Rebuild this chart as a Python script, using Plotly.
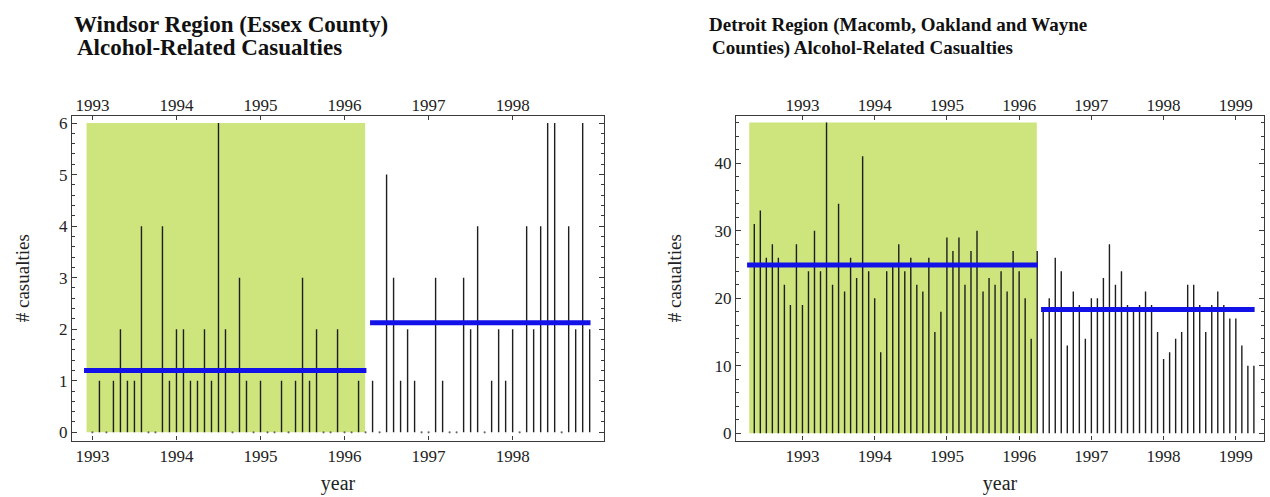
import plotly.graph_objects as go

# Monthly alcohol-related casualty counts
windsor_start = (1993, 1)   # Jan 1993 .. Dec 1998
windsor_counts = [
    0, 1, 0, 1, 2, 1, 1, 4, 0, 0, 4, 1,   # 1993
    2, 2, 1, 1, 2, 1, 6, 2, 0, 3, 1, 0,   # 1994
    1, 0, 0, 1, 0, 1, 3, 1, 2, 0, 0, 2,   # 1995
    0, 0, 1, 0, 1, 0, 5, 3, 1, 2, 1, 0,   # 1996
    0, 3, 1, 0, 0, 3, 2, 4, 0, 1, 2, 1,   # 1997
    2, 0, 4, 2, 4, 6, 6, 0, 4, 2, 6, 2,   # 1998
]

detroit_start = (1992, 5)   # May 1992 .. Apr 1999
detroit_counts = [
    31, 33, 26, 28, 26, 22, 19, 28,                   # 1992 (May-Dec)
    19, 24, 30, 24, 46, 22, 34, 21, 26, 23, 41, 24,   # 1993
    20, 12, 24, 25, 28, 24, 26, 22, 21, 26, 15, 18,   # 1994
    29, 27, 29, 22, 27, 30, 21, 23, 22, 24, 21, 27,   # 1995
    24, 20, 14, 27, 18, 20, 26, 24, 13, 21, 19, 14,   # 1996
    20, 20, 23, 28, 22, 24, 19, 18, 19, 21, 19, 15,   # 1997
    11, 12, 14, 15, 22, 22, 19, 15, 19, 21, 19, 17,   # 1998
    17, 13, 10, 10,                                   # 1999 (Jan-Apr)
]

# last month of the "before" period: April 1996
cutoff = 1996 + 3 / 12

windsor_years = [1993, 1994, 1995, 1996, 1997, 1998]
detroit_years = [1993, 1994, 1995, 1996, 1997, 1998, 1999]

titles = [
    ["Windsor Region (Essex County)", "Alcohol-Related Casualties"],
    ["Detroit Region (Macomb, Oakland and Wayne", "Counties) Alcohol-Related Casualties"],
]

GREEN = "rgb(206,228,124)"
BLUE = "rgb(18,18,232)"
BAR = "#1e1e1e"
AXIS = "#3a3a3a"
FONT = "Liberation Serif, 'Times New Roman', Times, serif"


def month_axis(start, n):
    y, m = start
    return [y + (m - 1 + i) / 12 for i in range(n)]


fig = go.Figure()

panels = [
    dict(t=month_axis(windsor_start, len(windsor_counts)), v=windsor_counts,
         xs="x", ys="y", xt="x3", years=windsor_years,
         xr=[1992.757, 1999.087], yr=[-0.16, 6.14], dtick=1, minor=0.2,
         dom=[72 / 1270, 604 / 1270], ystand=24),
    dict(t=month_axis(detroit_start, len(detroit_counts)), v=detroit_counts,
         xs="x2", ys="y2", xt="x4", years=detroit_years,
         xr=[1992.08, 1999.39], yr=[-1.08, 47.0], dtick=10, minor=2,
         dom=[736 / 1270, 1264 / 1270], ystand=27),
]

shapes = []
for p in panels:
    t, v = p["t"], p["v"]
    pre = [(ti, vi) for ti, vi in zip(t, v) if ti <= cutoff + 1e-9]
    post = [(ti, vi) for ti, vi in zip(t, v) if ti > cutoff + 1e-9]

    # shaded "before" period
    shapes.append(dict(type="rect", xref=p["xs"], yref=p["ys"], layer="below",
                       x0=pre[0][0] - 0.07, x1=cutoff - 0.005, y0=0, y1=max(v),
                       fillcolor=GREEN, line=dict(width=0)))

    # monthly spikes
    bx, by = [], []
    for ti, vi in zip(t, v):
        if vi > 0:
            bx += [ti, ti, None]
            by += [0, vi, None]
    fig.add_trace(go.Scatter(x=bx, y=by, mode="lines", xaxis=p["xs"], yaxis=p["ys"],
                             line=dict(color=BAR, width=1.4), hoverinfo="skip",
                             showlegend=False))
    zx = [ti for ti, vi in zip(t, v) if vi == 0]
    if zx:
        fig.add_trace(go.Scatter(x=zx, y=[0] * len(zx), mode="markers",
                                 xaxis=p["xs"], yaxis=p["ys"],
                                 marker=dict(color="#666666", size=2.2),
                                 hoverinfo="skip", showlegend=False))

    # period means
    for seg, x0, x1 in [(pre, pre[0][0] - 0.1, pre[-1][0] + 0.01),
                        (post, post[0][0] - 0.03, post[-1][0] + 0.01)]:
        mean = sum(s[1] for s in seg) / len(seg)
        fig.add_trace(go.Scatter(x=[x0, x1], y=[mean, mean], mode="lines",
                                 xaxis=p["xs"], yaxis=p["ys"],
                                 line=dict(color=BLUE, width=5), hoverinfo="skip",
                                 showlegend=False))

    # carrier for the top year labels
    fig.add_trace(go.Scatter(x=[p["xr"][0]], y=[0], mode="markers", xaxis=p["xt"],
                             yaxis=p["ys"], marker=dict(opacity=0), hoverinfo="skip",
                             showlegend=False))

tickfont = dict(family=FONT, size=17, color="#222222")
ydom = [1 - 443 / 497, 1 - 115 / 497]

layout = dict(
    width=1270, height=497, margin=dict(l=0, r=0, t=0, b=0),
    paper_bgcolor="white", plot_bgcolor="white", shapes=shapes,
    font=dict(family=FONT, color="#222222"),
)

for i, p in enumerate(panels):
    xs = "xaxis" if i == 0 else "xaxis2"
    ys = "yaxis" if i == 0 else "yaxis2"
    xt = "xaxis3" if i == 0 else "xaxis4"
    layout[xs] = dict(
        domain=p["dom"], range=p["xr"], anchor=p["ys"], tickvals=p["years"],
        ticks="inside", ticklen=4, tickcolor=AXIS, showgrid=False, zeroline=False,
        showline=True, linecolor=AXIS, linewidth=1.3, mirror="ticks",
        tickfont=tickfont, title=dict(text="year", font=dict(family=FONT, size=20),
                                      standoff=10),
    )
    layout[ys] = dict(
        domain=ydom, range=p["yr"], anchor=p["xs"], dtick=p["dtick"], tick0=0,
        ticks="inside", ticklen=5, tickcolor=AXIS, showgrid=False, zeroline=False,
        showline=True, linecolor=AXIS, linewidth=1.3, mirror="ticks",
        minor=dict(dtick=p["minor"], ticks="inside", ticklen=3, tickcolor=AXIS),
        tickfont=tickfont,
        title=dict(text="# casualties", font=dict(family=FONT, size=19),
                   standoff=p["ystand"]),
    )
    layout[xt] = dict(
        overlaying=p["xs"], side="top", anchor=p["ys"], range=p["xr"],
        tickvals=p["years"], ticks="", showgrid=False, zeroline=False,
        showline=False, tickfont=tickfont,
    )

annotations = []
title_sizes = [23, 19]
for i, (l1, l2) in enumerate(titles):
    x0 = 72 if i == 0 else 707
    fnt = dict(family=FONT, size=title_sizes[i], color="#111")
    annotations.append(dict(text="<b>%s</b>" % l1, x=x0 / 1270, y=1 - 23 / 497,
                            xref="paper", yref="paper", xanchor="left", yanchor="middle",
                            showarrow=False, font=fnt))
    annotations.append(dict(text="<b>%s</b>" % l2, x=(x0 + 3) / 1270, y=1 - 46 / 497,
                            xref="paper", yref="paper", xanchor="left", yanchor="middle",
                            showarrow=False, font=fnt))
layout["annotations"] = annotations

fig.update_layout(**layout)
fig.write_html("out.html")
